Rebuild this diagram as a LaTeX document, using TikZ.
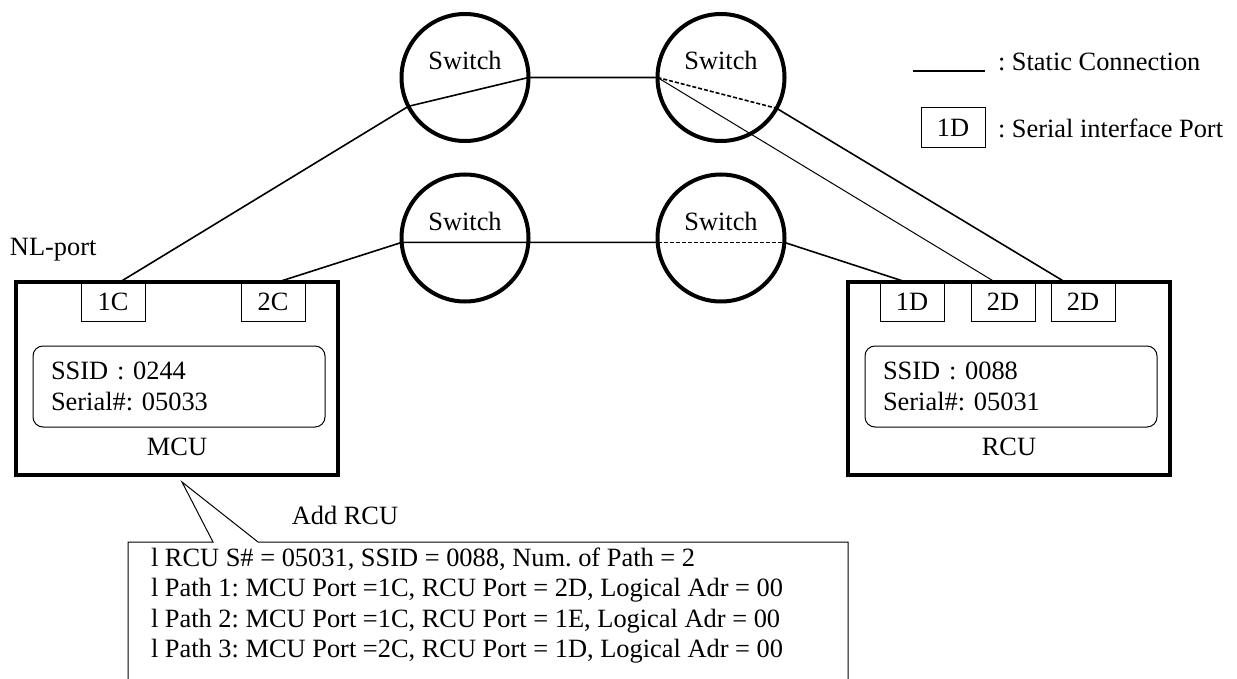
\documentclass[tikz,border=0pt]{standalone}
\usepackage{fontspec}
\setmainfont{Liberation Serif}
\usetikzlibrary{positioning}
\frenchspacing

\begin{document}
\begin{tikzpicture}[x=0.5pt, y=-0.5pt, font=\fontsize{13.2}{15.4}\selectfont,
		every node/.style={outer sep=0pt},
		switch/.style={circle, draw, line width=2pt, minimum size=63.5pt, inner sep=0pt},
		unit/.style={rectangle, draw, line width=1.75pt, minimum width=161pt, minimum height=96.5pt},
		port/.style={rectangle, draw, line width=0.5pt, minimum width=32pt, minimum height=20pt, inner sep=0pt},
		idbox/.style={rectangle, draw, rounded corners=5pt, line width=0.5pt, minimum width=146pt, minimum height=40.5pt, text width=128pt, inner xsep=9pt, inner ysep=0pt, align=left},
		txt/.style={inner sep=0pt},
		link/.style={line width=0.8pt},
		thinlink/.style={line width=0.5pt},
		deadlink/.style={line width=0.8pt, dash pattern=on 2pt off 1pt}]
	\useasboundingbox (0,0) rectangle (1237,679);
	% switches
	\node (swTL) [switch, label={[yshift=8.5pt]center:Switch}] at (465,77.5) {};
	\node (swTR) [switch, right=64.5pt of swTL, label={[yshift=8.5pt]center:Switch}] {};
	\node (swBL) [switch, below=16.75pt of swTL, label={[yshift=8.5pt]center:Switch}] {};
	\node (swBR) [switch, below=16.75pt of swTR, label={[yshift=8.5pt]center:Switch}] {};
	
	% control units
	\node (mcu) [unit] at (177,378.5) {};
	\node (rcu) [unit] at (1009,378.5) {};
	\node (p1C) [port, below right=0pt and 32.5pt of mcu.north west] {1C};
	\node (p2C) [port, below right=0pt and 112.5pt of mcu.north west] {2C};
	\node (p1D) [port, below right=0pt and 16pt of rcu.north west] {1D};
	\node (p2Da) [port, below right=0pt and 61.5pt of rcu.north west] {2D};
	\node (p2Db) [port, below right=0pt and 101.5pt of rcu.north west] {2D};
	\node (mcuid) [idbox, below right=32pt and 8.5pt of mcu.north west] {SSID : 0244\\Serial\#: 05033};
	\node (rcuid) [idbox, below right=32pt and 8.5pt of rcu.north west] {SSID : 0088\\Serial\#: 05031};
	\node (mcuname) [txt, above=9.5pt of mcu.south] {MCU};
	\node (rcuname) [txt, above=9.5pt of rcu.south] {RCU};
	\node (nlport) [txt, anchor=west] at (10,250) {NL-port};
	
	% upper route
	\draw [link] ([xshift=3.5pt]p1C.north) -- (swTL.207) -- (swTL.0) -- (swTR.180);
	\draw [thinlink] (swTR.180) -- ([xshift=-4pt]p2Da.north);
	\draw [deadlink] (swTR.180) -- (swTR.331);
	\draw [link] (swTR.331) -- ([xshift=-9pt]p2Db.north);
	% lower route
	\draw [link] ([xshift=2.5pt]p2C.north) -- (swBL.184) -- (swBR.184);
	\draw [deadlink] (swBR.184) -- (swBR.356);
	\draw [link] (swBR.356) -- ([xshift=-3pt]p1D.north);
	
	% legend
	\coordinate (lgA) at (913,71);
	\coordinate (lgB) at (985,71);
	\draw [link] (lgA) -- (lgB);
	\node (lgstatic) [txt, anchor=base west, xshift=6.5pt] at (lgB) {: Static Connection};
	\node (lgport) [port] at (953,128) {1D};
	\node (lgportname) [txt, right=6.5pt of lgport] {: Serial interface Port};
	
	% callout
	\coordinate (tip) at ([shift={(2.5pt,-3.5pt)}]mcu.south);
	\draw [thinlink] (128,679) -- (128,542) -- (213,542) -- (tip) -- (258,542) -- (848,542) -- (848,679);
	\node (addrcu) [txt] at (345,515) {Add RCU};
	\node (pathlist) [txt, anchor=north west, align=left, font=\fontsize{13.2}{15.2}\selectfont] at (151,548)
		{l RCU S\# = 05031, SSID = 0088, Num. of Path = 2\\
		l Path 1: MCU Port =1C, RCU Port = 2D, Logical Adr = 00\\
		l Path 2: MCU Port =1C, RCU Port = 1E, Logical Adr = 00\\
		l Path 3: MCU Port =2C, RCU Port = 1D, Logical Adr = 00};
\end{tikzpicture}
\end{document}
